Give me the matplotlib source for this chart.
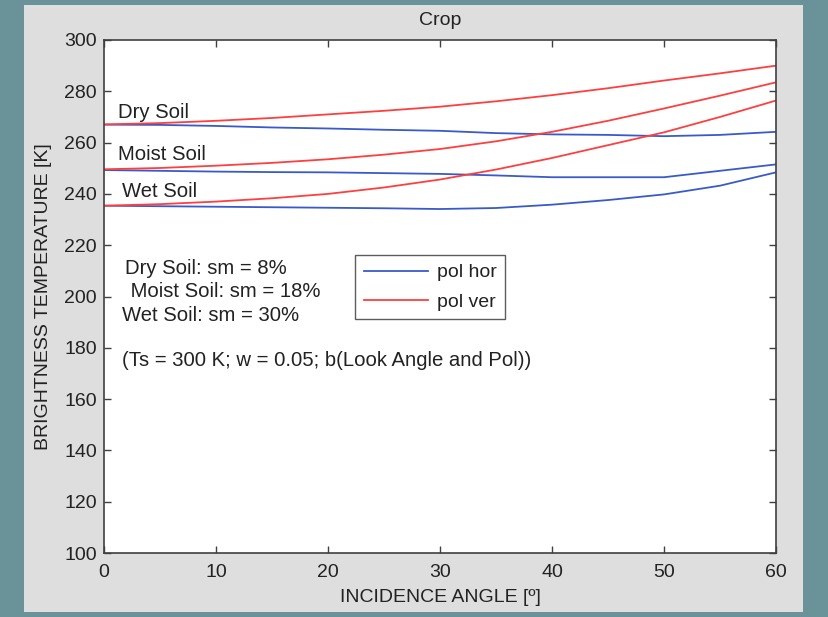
import matplotlib
matplotlib.use("Agg")
import matplotlib.pyplot as plt
from matplotlib.patches import Rectangle
from matplotlib.lines import Line2D

plt.rcParams['font.family'] = ['Liberation Sans', 'DejaVu Sans']

angles = [0, 5, 10, 15, 20, 25, 30, 35, 40, 45, 50, 55, 60]
dry_hor = [267.0, 266.9, 266.5, 265.9, 265.5, 265.0, 264.6, 263.7, 263.2, 263.0, 262.5, 263.0, 264.2]
dry_ver = [267.1, 267.6, 268.5, 269.6, 271.0, 272.4, 274.0, 276.1, 278.5, 281.2, 284.2, 287.0, 290.0]
moist_hor = [249.3, 249.0, 248.7, 248.5, 248.4, 248.1, 247.8, 247.2, 246.5, 246.5, 246.5, 249.0, 251.5]
moist_ver = [249.6, 250.1, 251.0, 252.1, 253.5, 255.3, 257.5, 260.5, 264.2, 268.5, 273.3, 278.3, 283.5]
wet_hor = [235.4, 235.2, 235.0, 234.8, 234.6, 234.4, 234.1, 234.5, 235.8, 237.6, 239.8, 243.2, 248.4]
wet_ver = [235.4, 236.0, 237.0, 238.3, 240.0, 242.5, 245.6, 249.5, 254.0, 259.0, 264.0, 270.0, 276.4]

x_ticks = [0, 10, 20, 30, 40, 50, 60]
y_ticks = [100, 120, 140, 160, 180, 200, 220, 240, 260, 280, 300]

title = "Crop"
x_label = "INCIDENCE ANGLE [º]"
y_label = "BRIGHTNESS TEMPERATURE [K]"
curve_labels = ["Dry Soil", "Moist Soil", "Wet Soil"]
info_lines = ["Dry Soil: sm = 8%", " Moist Soil: sm = 18%", "Wet Soil: sm = 30%",
              "(Ts = 300 K; w = 0.05; b(Look Angle and Pol))"]
legend_labels = ["pol hor", "pol ver"]

BLUE = "#3a5acb"
RED = "#ff3f3f"
TXT = "#222222"
FS = 14
FS_TXT = 14.6

fig = plt.figure(figsize=(8.29, 6.17), dpi=100)
fig.patch.set_facecolor("#6a9399")
fig.patches.append(Rectangle((24/829, 5/617), (803-24)/829, (612-5)/617,
                             transform=fig.transFigure, facecolor="#dedede",
                             edgecolor="none", zorder=-10))

ax = fig.add_axes([104/829, 64/617, 672/829, 513/617])
ax.set_zorder(1)
ax.set_facecolor("white")

lw = 1.3
for h in [dry_hor, moist_hor, wet_hor]:
    ax.plot(angles, h, color=BLUE, lw=lw)
for v in [dry_ver, moist_ver, wet_ver]:
    ax.plot(angles, v, color=RED, lw=lw)

ax.set_xlim(0, 60)
ax.set_ylim(100, 300)
ax.set_xticks(x_ticks)
ax.set_yticks(y_ticks)
ax.tick_params(direction="in", length=5, width=1, colors="#404040",
               labelsize=FS, labelcolor=TXT, top=True, right=True)
ax.tick_params(axis="y", pad=5)
ax.tick_params(axis="x", pad=8)
for s in ax.spines.values():
    s.set_color("#404040")
    s.set_linewidth(1.2)

ax.set_title(title, fontsize=FS, color=TXT, pad=11)
ax.set_xlabel(x_label, fontsize=FS, color=TXT, labelpad=6)
ax.set_ylabel(y_label, fontsize=FS, color=TXT, labelpad=9)

# curve labels
ax.text(1.25, 271.9, curve_labels[0], fontsize=FS_TXT, color=TXT, va="center", ha="left")
ax.text(1.25, 255.2, curve_labels[1], fontsize=FS_TXT, color=TXT, va="center", ha="left")
ax.text(1.6, 241.1, curve_labels[2], fontsize=FS_TXT, color=TXT, va="center", ha="left")

ax.text(1.9, 211.1, info_lines[0], fontsize=FS_TXT, color=TXT, va="center", ha="left")
ax.text(1.9, 202.1, info_lines[1], fontsize=FS_TXT, color=TXT, va="center", ha="left")
ax.text(1.6, 192.4, info_lines[2], fontsize=FS_TXT, color=TXT, va="center", ha="left")
ax.text(1.6, 174.9, info_lines[3], fontsize=FS_TXT, color=TXT, va="center", ha="left")

handles = [Line2D([], [], color=BLUE, lw=lw), Line2D([], [], color=RED, lw=lw)]
leg = ax.legend(handles, legend_labels, loc="upper left",
                bbox_to_anchor=((355-104)/672, (553-255)/513),
                fontsize=FS, frameon=True, fancybox=False, handlelength=3.3,
                handletextpad=0.45, borderpad=0.45, labelspacing=0.6,
                borderaxespad=0)
leg.get_frame().set_edgecolor("#333333")
leg.get_frame().set_linewidth(1.0)
for t in leg.get_texts():
    t.set_color(TXT)

fig.savefig("out.png", dpi=100, facecolor=fig.get_facecolor())
